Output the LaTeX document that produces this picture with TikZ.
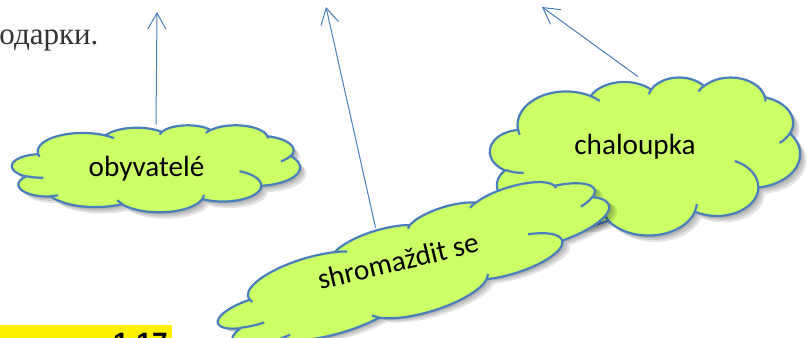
\documentclass[tikz,border=0pt]{standalone}
\usepackage{fontspec}
\setmainfont{Carlito}
\newfontfamily\pageserif{Liberation Serif}
\newfontfamily\headsans{Liberation Sans}
\usetikzlibrary{arrows.meta, shapes.geometric}
\definecolor{CloudFill}{RGB}{204,255,102}
\definecolor{CloudLine}{RGB}{74,126,187}
\definecolor{PageText}{RGB}{51,51,51}
\pgfdeclarelayer{back}
\pgfsetlayers{back,main}

% one arc of the cloud outline, angles as seen on the ellipse
\tikzset{cloud arc/.style n args={4}{x radius=#1, y radius=#2,
    start angle={atan2(#1*sin(#3),#2*cos(#3))},
    delta angle={mod(atan2(#1*sin(#3+#4),#2*cos(#3+#4))-atan2(#1*sin(#3),#2*cos(#3))+720,360)}}}

\NewDocumentCommand{\cloudrim}{m}{%
  \path[#1] (39,143.7) foreach \rx/\ry/\st/\sw in {67.53/91.90/-190.4875/123.7805,
      53.33/72.67/-144.1024/89.9452, 43.65/59.45/-145.8079/99.7230,
      48.57/65.95/-130.9861/117.2417, 53.33/72.73/-78.7089/109.0269,
      67.75/92.20/-46.2673/130.2690, 57.85/78.67/0.6250/114.0333,
      67.52/92.15/22.4516/115.1726, 77.20/105.43/66.2426/75.7110,
      43.60/59.18/-274.9421/146.7356, 43.45/59.45/-246.8285/152.5189}
    {arc[cloud arc={\rx}{\ry}{\st}{\sw}]} -- cycle;}

\NewDocumentCommand{\cloudcreases}{m}{%
  \path[#1] foreach \px/\py/\rx/\ry/\st/\sw in {46.93/261.77/43.45/59.45/86.7420/26.4295,
      69.28/348.99/43.60/59.18/73.6105/11.4475, 164.78/390.90/67.52/92.15/137.6242/14.0811,
      288.27/347.51/67.52/92.15/6.4533/15.9984, 341.29/229.54/57.85/78.67/-70.2924/70.9174,
      417.98/153.54/53.33/72.73/30.3180/27.7515, 383.24/54.26/48.57/65.95/-13.7443/14.8589,
      290.78/39.52/48.57/65.95/-149.1815/18.1954, 221.41/47.20/43.65/59.45/-163.4943/17.6864,
      140.00/51.92/67.53/91.90/-66.7070/12.3194, 41.27/157.89/67.53/91.90/157.6544/11.8582}
    {(\px,\py) arc[cloud arc={\rx}{\ry}{\st}{\sw}]};}

% [turn]{name}{centre}{width}{height}, sizes in picture pixels
\NewDocumentCommand{\wordcloud}{O{0} m m m m}{%
  \pgfmathsetmacro\cloudxu{#4/864}%
  \pgfmathsetmacro\cloudyu{#5/864}%
  \node[cloudspot, rotate=#1, minimum width={#4*0.5pt}, minimum height={#5*0.5pt}] (#2) at #3 {};
  \begin{scope}[shift={(#2.center)}, rotate=#1, x=\cloudxu pt, y=-\cloudyu pt, shift={(-216,-216)}]
    \foreach \drop in {1.2,2.2,3.2}
      {\cloudrim{fill=black, opacity=0.11, xshift=\drop pt, yshift=-\drop pt}}
    \cloudrim{fill=CloudFill, draw=CloudLine, line width=1.1pt}
    \cloudcreases{draw=CloudLine, line width=1.1pt}
  \end{scope}}

\begin{document}
\begin{tikzpicture}[x=0.5pt,y=-0.5pt,>={Straight Barb[length=8pt,width=9pt]},
        cloudspot/.style={ellipse, inner sep=0pt},
        cloudlabel/.style={inner sep=0pt, font=\fontsize{14.6}{17}\selectfont},
        pointer/.style={->, draw=CloudLine, line width=0.5pt}]
      \useasboundingbox (0,0) rectangle (811,338);
      \clip (0,0) rectangle (811,338);

      % page text behind the drawing
      \node[anchor=base west, inner sep=0pt, text=PageText, font=\pageserif\fontsize{15.5}{18}\selectfont] (tail) at (-1,44) {одарки.};
      \fill[yellow] (0,325) rectangle (172,345);
      \node[anchor=base east, inner sep=0pt, font=\headsans\bfseries\fontsize{14}{17}\selectfont] (secnum) at (168,352) {1.17};

      % clouds
      \wordcloud{obyv}{(156,168.5)}{288}{87}
      \node[cloudlabel] (obyv text) at (146.5,169) {obyvatelé};
      \wordcloud{chal}{(645,156)}{310}{158}
      \node[cloudlabel] (chal text) at (635,146.5) {chaloupka};
      \wordcloud[17]{shrom}{(414,266)}{408}{96}
      \node[cloudlabel, rotate=13.5] (shrom text) at (398,261) {shromaždit se};

      \coordinate (t1) at (157,12);
      \coordinate (t2) at (326,7);
      \coordinate (t3) at (542,7);
      \begin{pgfonlayer}{back}
        \draw[pointer] (obyv.north) -- (t1);
        \draw[pointer] (shrom.118) -- (t2);
        \draw[pointer] (chal.95) -- (t3);
      \end{pgfonlayer}
    \end{tikzpicture}
\end{document}
